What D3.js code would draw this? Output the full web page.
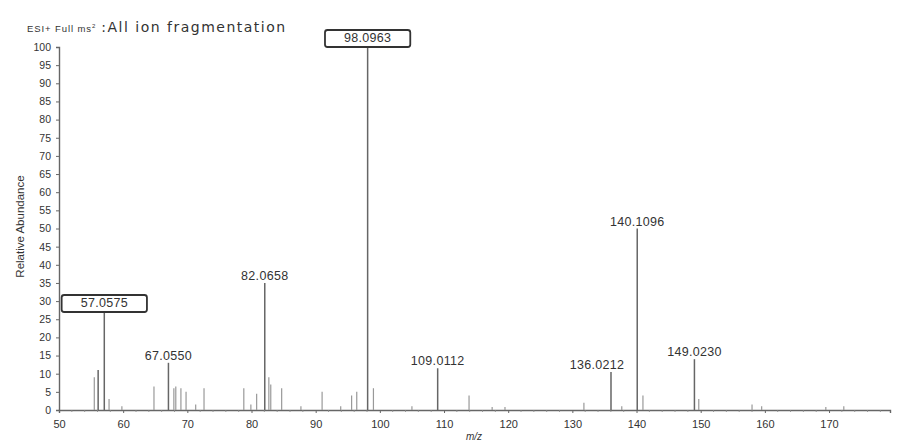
<!DOCTYPE html>
<html>
<head>
<meta charset="utf-8">
<script src="https://cdn.jsdelivr.net/npm/d3@7"></script>
<style>
  body { margin: 0; background: #fff; }
  svg { display: block; font-family: "Liberation Sans", Arial, sans-serif; }
</style>
</head>
<body>
<svg id="chart" width="903" height="441"></svg>
<script>
// centroid peaks: m/z and relative abundance (%)
const mz = [
  55.5, 56.1, 57.0575, 57.8, 59.8, 64.8, 67.055, 67.9, 68.2, 69.0, 69.8, 71.3, 72.6,
  78.8, 79.9, 80.8, 82.0658, 82.7, 83.0, 84.7, 87.7, 91.0, 93.9, 95.6, 96.4,
  98.0963, 99.0, 105.0, 109.0112, 113.9, 117.5, 119.5, 131.8, 136.0212, 137.7,
  140.1096, 141.0, 149.023, 149.7, 158.0, 159.5, 169.5, 172.3
];
const abundance = [
  9, 11, 27, 3, 1, 6.5, 13, 6, 6.5, 6, 5, 1.5, 6,
  6, 1.5, 4.5, 35, 9, 7, 6, 1, 5, 1, 4, 5,
  100, 6, 1, 11.5, 4, 0.8, 0.8, 2, 10.5, 1,
  50, 4, 14, 3, 1.5, 1, 0.8, 1
];

// annotated peaks
const labelMz = [57.0575, 67.055, 82.0658, 98.0963, 109.0112, 136.0212, 140.1096, 149.023];
const labelText = ["57.0575", "67.0550", "82.0658", "98.0963", "109.0112", "136.0212", "140.1096", "149.0230"];
const boxedLabels = ["57.0575", "98.0963"];

const xTicks = [50, 60, 70, 80, 90, 100, 110, 120, 130, 140, 150, 160, 170];
const yTicks = d3.range(0, 101, 5);

const svg = d3.select('#chart');
const margin = { top: 47, right: 13, bottom: 31, left: 59 };
const W = 903, H = 441;

const x = d3.scaleLinear().domain([50, 179.5]).range([margin.left, W - margin.right]);
const y = d3.scaleLinear().domain([0, 100]).range([H - margin.bottom, margin.top]);

const ink = '#333';
const font = '"Liberation Sans", Arial, sans-serif';

// title
const title = svg.append('text').attr('x', 27).attr('y', 32).attr('fill', ink);
title.append('tspan').attr('font-size', '9.5px').attr('letter-spacing', '0.9px').text('ESI+ Full ms');
title.append('tspan').attr('font-size', '6px').attr('dy', -4).text('2');
title.append('tspan').attr('font-size', '14px').attr('dy', 4).attr('letter-spacing', '1.5px')
  .attr('font-family', '"DejaVu Sans", sans-serif').text(' :All ion fragmentation');

// axes
const xAxis = svg.append('g')
  .attr('transform', `translate(0,${y(0)})`)
  .call(d3.axisBottom(x).tickValues(xTicks).tickSize(3).tickPadding(7).tickFormat(d3.format('d')));
xAxis.select('.domain').attr('stroke', '#666').attr('stroke-width', 1.4);
xAxis.selectAll('line').attr('stroke', '#666');
xAxis.selectAll('text').attr('fill', ink).attr('font-size', '11px').attr('font-family', font);

// minor ticks every 2 m/z units
svg.append('g').selectAll('line')
  .data(d3.range(50, 180, 2).filter(v => v % 10 !== 0))
  .join('line')
  .attr('x1', d => x(d)).attr('x2', d => x(d))
  .attr('y1', y(0)).attr('y2', y(0) + 2)
  .attr('stroke', '#888').attr('stroke-width', 0.8);

const yAxis = svg.append('g')
  .attr('transform', `translate(${x(50)},0)`)
  .call(d3.axisLeft(y).tickValues(yTicks).tickSize(3).tickPadding(5));
yAxis.select('.domain').attr('stroke', '#666').attr('stroke-width', 1.4);
yAxis.selectAll('line').attr('stroke', '#666');
yAxis.selectAll('text').attr('fill', ink).attr('font-size', '10.5px').attr('font-family', font);

// axis titles
svg.append('text')
  .attr('transform', `translate(24,${(y(0) + y(100)) / 2 - 2}) rotate(-90)`)
  .attr('text-anchor', 'middle').attr('font-size', '11.5px').attr('fill', ink)
  .text('Relative Abundance');
svg.append('text')
  .attr('x', 474).attr('y', 440)
  .attr('text-anchor', 'middle').attr('font-size', '10px').attr('font-style', 'italic').attr('fill', ink)
  .text('m/z');

// spectrum sticks
const peaks = mz.map((m, i) => ({ mz: m, ab: abundance[i] }));
svg.append('g').selectAll('line')
  .data(peaks)
  .join('line')
  .attr('x1', d => x(d.mz)).attr('x2', d => x(d.mz))
  .attr('y1', y(0)).attr('y2', d => y(d.ab))
  .attr('stroke', d => d.ab > 9 ? '#666' : '#999')
  .attr('stroke-width', d => d.ab > 9 ? 1.5 : 1.2);

// peak labels
const nudge = { '136.0212': -14 };
const labels = labelMz.map((m, i) => ({ mz: m, text: labelText[i], ab: abundance[mz.indexOf(m)] }));
const lg = svg.append('g');
labels.forEach(d => {
  const cx = x(d.mz) + (nudge[d.text] || 0);
  const boxed = boxedLabels.includes(d.text);
  const base = boxed ? y(d.ab) - 5 : y(d.ab) - 3;
  const t = lg.append('text')
    .attr('x', cx).attr('y', base)
    .attr('text-anchor', 'middle')
    .attr('font-size', '12.5px')
    .attr('letter-spacing', '0.3px')
    .attr('fill', ink)
    .text(d.text);
  if (boxed) {
    const bb = t.node().getBBox();
    lg.insert('rect', 'text')
      .attr('x', bb.x - 19).attr('y', bb.y - 1)
      .attr('width', bb.width + 38).attr('height', bb.height + 3)
      .attr('rx', 2.5)
      .attr('fill', '#fff').attr('stroke', '#333').attr('stroke-width', 1.8);
  }
});
</script>
</body>
</html>
